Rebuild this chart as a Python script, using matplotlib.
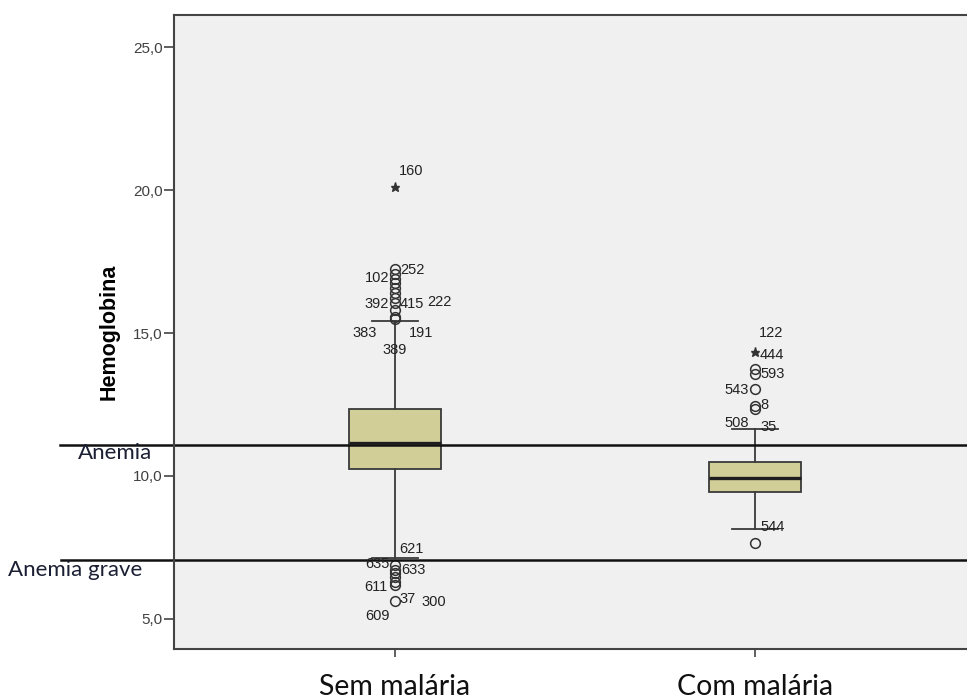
import matplotlib.pyplot as plt
from matplotlib.transforms import blended_transform_factory

# categories and box summary (Hemoglobina)
grupos = ['Sem malária', 'Com malária']
q1 = [10.24, 9.43]
mediana = [11.15, 9.93]
q3 = [12.34, 10.50]
whis_lo = [7.13, 8.14]
whis_hi = [15.42, 11.63]

# outliers (circles) and extremes (stars)
out_sem = [17.24, 17.05, 16.9, 16.75, 16.57, 16.4, 16.22, 16.05, 15.8, 15.56, 15.5,
           6.89, 6.71, 6.6, 6.46, 6.3, 6.19, 5.63]
ext_sem = [20.09]
out_com = [13.73, 13.56, 13.03, 12.45, 12.33, 7.65]
ext_com = [14.35]

# case labels: id, group index, value, horizontal offset (px)
lab_ids = ['160', '252', '102', '392', '415', '222', '383', '191', '389',
           '621', '635', '633', '611', '37', '300', '609',
           '122', '444', '593', '543', '8', '508', '35', '544']
lab_grp = [0] * 16 + [1] * 8
lab_val = [20.66, 17.20, 16.91, 16.01, 16.01, 16.09, 14.99, 14.99, 14.41,
           7.44, 6.91, 6.71, 6.13, 5.69, 5.58, 5.10,
           14.99, 14.23, 13.57, 13.01, 12.48, 11.84, 11.72, 8.23]
lab_dx = [16, 17, -18, -18, 17, 44, -30, 26, 0,
          16, -18, 18, -19, 13, 39, -18,
          16, 17, 18, -18, 9, -18, 14, 18]

# reference lines
limiares = [11.1, 7.07]
limiar_txt = ['Anemia', 'Anemia grave']

fig = plt.figure(figsize=(9.67, 7), dpi=100)
ax = fig.add_axes([174 / 967, 51 / 700, 1 - 174 / 967, 634 / 700])
ax.set_facecolor('#f0f0f0')

pos = [1, 2]
stats = []
for i in range(2):
    stats.append(dict(med=mediana[i], q1=q1[i], q3=q3[i],
                      whislo=whis_lo[i], whishi=whis_hi[i], fliers=[]))
ax.bxp(stats, positions=pos, widths=0.253, capwidths=0.128, patch_artist=True,
       showfliers=False,
       boxprops=dict(facecolor='#d2ce98', edgecolor='#3a3a3a', linewidth=1.3),
       medianprops=dict(color='#1e1e1e', linewidth=2.4),
       whiskerprops=dict(color='#3a3a3a', linewidth=1.3),
       capprops=dict(color='#3a3a3a', linewidth=1.3))

ax.plot([1] * len(out_sem), out_sem, 'o', mfc='none', mec='#333333', ms=7, mew=1.1)
ax.plot([2] * len(out_com), out_com, 'o', mfc='none', mec='#333333', ms=7, mew=1.1)
ax.plot([1] * len(ext_sem), ext_sem, '*', color='#333333', ms=6.5)
ax.plot([2] * len(ext_com), ext_com, '*', color='#333333', ms=6.5)

for t, g, v, dx in zip(lab_ids, lab_grp, lab_val, lab_dx):
    ax.annotate(t, xy=(pos[g], v), xytext=(dx * 0.72, 0), textcoords='offset points',
                ha='center', va='center', fontsize=10.5, color='#222222',
                family='Liberation Sans')

ax.set_xlim(0.386, 2.589)
ax.set_ylim(3.95, 26.12)
ax.set_yticks([5, 10, 15, 20, 25])
ax.set_yticklabels(['5,0', '10,0', '15,0', '20,0', '25,0'], fontsize=11,
                   color='#404040', family='Liberation Sans')
ax.set_xticks(pos)
ax.set_xticklabels(grupos, fontsize=20.5, color='#111111', family='Lato')
ax.tick_params(axis='y', length=7, width=1.2, color='#444444', pad=1)
ax.tick_params(axis='x', length=6, width=1.2, color='#444444', pad=12)
ax.set_ylabel('Hemoglobina', fontsize=15.5, fontweight='bold', family='Liberation Sans')
ax.yaxis.set_label_coords(-54 / 793, (700 - 332 - 51) / 634)

for s in ['left', 'bottom', 'top']:
    ax.spines[s].set_color('#444444')
    ax.spines[s].set_linewidth(1.5)
ax.spines['right'].set_visible(False)

tr = blended_transform_factory(fig.transFigure, ax.transData)
for y, txt, xs in zip(limiares, limiar_txt, [60 / 967, 61 / 967]):
    ax.plot([xs, 1.0], [y, y], color='#111111', linewidth=1.8, transform=tr, clip_on=False)
ax.text(115 / 967, 10.82, limiar_txt[0], transform=tr, ha='center', va='center',
        fontsize=16, color='#1a1f33', family='Lato')
ax.text(75 / 967, 6.72, limiar_txt[1], transform=tr, ha='center', va='center',
        fontsize=16, color='#1a1f33', family='Lato')

fig.savefig('out.png', dpi=100)
